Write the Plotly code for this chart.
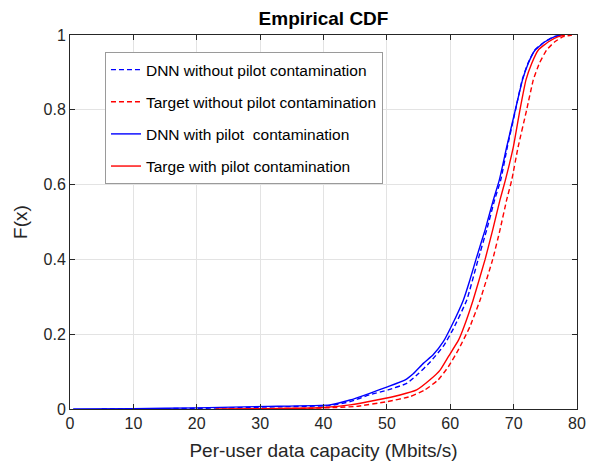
import plotly.graph_objects as go

# ---- data ----
names = [
    "DNN without pilot contamination",
    "Target without pilot contamination",
    "DNN with pilot\u00a0 contamination",
    "Targe with pilot contamination",
]

dnn_without_x = [5, 15, 25, 33, 41, 44.2, 47.3, 50.2, 53.2, 55.0, 56.8, 59.0, 60.5, 62.6, 64.4, 65.75, 67.0, 67.96, 69.0, 70.3, 71.35, 72.25, 73.35, 74.9, 76.4, 77.5]
dnn_without_F = [0, 0.001, 0.003, 0.006, 0.009, 0.0196, 0.038, 0.051, 0.069, 0.095, 0.125, 0.17, 0.215, 0.291, 0.4, 0.479, 0.559, 0.612, 0.70, 0.80, 0.88, 0.924, 0.96, 0.982, 0.9955, 1.0]

target_without_x = [25, 32, 38, 42, 45.2, 50.0, 53.65, 56.0, 58.1, 59.7, 61.27, 62.85, 63.1, 64.7, 66.7, 67.85, 68.9, 69.7, 70.7, 72.06, 73.1, 74.05, 75.2, 76.5, 77.8, 79.2]
target_without_F = [0, 0.001, 0.002, 0.004, 0.007, 0.0196, 0.033, 0.051, 0.078, 0.113, 0.158, 0.211, 0.22, 0.291, 0.4, 0.479, 0.559, 0.612, 0.70, 0.80, 0.88, 0.924, 0.96, 0.982, 0.9955, 1.0]

dnn_with_x = [0.5, 10, 20, 31, 41.0, 44.2, 47.3, 50.2, 52.9, 54.2, 55.75, 57.3, 58.9, 60.2, 62.06, 63.1, 64.06, 65.5, 66.8, 67.74, 68.9, 70.27, 71.4, 72.3, 73.4, 74.95, 76.5, 77.6]
dnn_with_F = [0, 0.001, 0.003, 0.007, 0.011, 0.024, 0.042, 0.06, 0.078, 0.095, 0.122, 0.145, 0.18, 0.222, 0.291, 0.345, 0.4, 0.479, 0.559, 0.612, 0.70, 0.80, 0.88, 0.924, 0.96, 0.982, 0.9955, 1.0]

target_with_x = [23, 30, 36, 40, 44.2, 48.4, 52.07, 54.7, 56.8, 58.4, 59.7, 61.3, 62.17, 63.6, 65.5, 66.7, 67.85, 68.7, 69.95, 71.0, 71.95, 72.85, 73.9, 75.5, 77.05, 78.1]
target_with_F = [0, 0.001, 0.002, 0.004, 0.011, 0.024, 0.0375, 0.051, 0.078, 0.104, 0.14, 0.184, 0.22, 0.291, 0.4, 0.479, 0.559, 0.612, 0.70, 0.80, 0.88, 0.924, 0.96, 0.982, 0.9955, 1.0]

x_ticks = [0, 10, 20, 30, 40, 50, 60, 70, 80]
y_ticks = [0, 0.2, 0.4, 0.6, 0.8, 1]
y_tick_labels = ["0", "0.2", "0.4", "0.6", "0.8", "1"]

series = [
    (dnn_without_x, dnn_without_F, "#0000ff", "5px,3px"),
    (target_without_x, target_without_F, "#ff0000", "5px,3px"),
    (dnn_with_x, dnn_with_F, "#0000ff", "solid"),
    (target_with_x, target_with_F, "#ff0000", "solid"),
]

FONT = "Liberation Sans, Arial, Helvetica, sans-serif"
INK = "#262626"

fig = go.Figure()
for i, (xs, fs, col, dash) in enumerate(series):
    fig.add_trace(go.Scatter(
        x=xs, y=fs, mode="lines", name=names[i], legendgroup=f"g{i}",
        line=dict(color=col, width=1.4, dash=dash, shape="spline", smoothing=0.4),
    ))

axis_common = dict(
    showgrid=True, gridcolor="#e3e3e3", gridwidth=1,
    showline=True, linecolor=INK, linewidth=1, mirror="ticks",
    ticks="inside", ticklen=5, tickcolor=INK, tickwidth=1,
    zeroline=False, automargin=False,
    tickfont=dict(family=FONT, size=16, color=INK),
)

fig.update_layout(
    width=598, height=463,
    margin=dict(l=70, r=21, t=35, b=54),
    paper_bgcolor="white", plot_bgcolor="white",
    title=dict(text="<b>Empirical CDF</b>", x=(70 + 577) / 2 / 598, xanchor="center",
               y=1 - 18 / 463, yanchor="middle",
               font=dict(family=FONT, size=19, color="black")),
    xaxis=dict(range=[0, 80], tickvals=x_ticks,
               title=dict(text="Per-user data capacity (Mbits/s)", standoff=12,
                          font=dict(family=FONT, size=19, color=INK)),
               **axis_common),
    yaxis=dict(range=[0, 1], tickvals=y_ticks, ticktext=y_tick_labels,
               title=dict(text="F(x)", standoff=10,
                          font=dict(family=FONT, size=19, color=INK)),
               **axis_common),
    legend=dict(x=0.069, y=0.9545, xanchor="left", yanchor="top",
                bgcolor="white", bordercolor="#9a9a9a", borderwidth=1,
                font=dict(family=FONT, size=15.5, color="black"),
                tracegroupgap=9, itemwidth=30),
    showlegend=True,
)

fig.write_html("out.html")
